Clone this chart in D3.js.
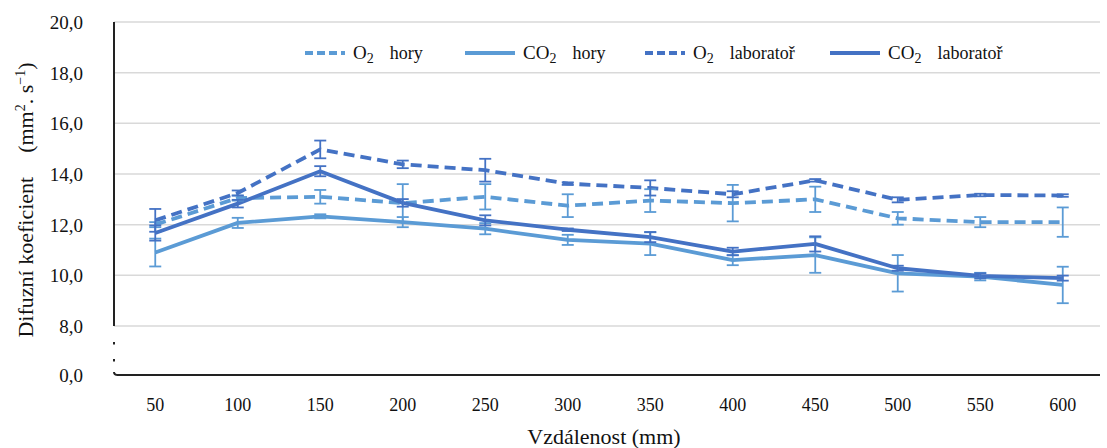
<!DOCTYPE html>
<html>
<head>
<meta charset="utf-8">
<script src="https://cdn.jsdelivr.net/npm/d3@7"></script>
<style>
  body { margin: 0; background: #fff; }
  svg text { font-family: "Liberation Serif", "DejaVu Serif", "Times New Roman", serif !important; fill: #111; }
</style>
</head>
<body>
<svg id="svg" width="1107" height="448"></svg>
<script>
// ------ data ------
const distances = ['50', '100', '150', '200', '250', '300', '350', '400', '450', '500', '550', '600'];
const yTicks = [0, 8, 10, 12, 14, 16, 18, 20];

const o2Hory      = [12.0, 13.05, 13.1, 12.85, 13.1, 12.75, 12.95, 12.85, 13.0, 12.25, 12.1, 12.1];
const o2HoryErr   = [0.1, 0.1, 0.27, 0.75, 0.5, 0.45, 0.45, 0.72, 0.5, 0.25, 0.2, 0.58];
const co2Hory     = [10.9, 12.07, 12.33, 12.1, 11.84, 11.4, 11.25, 10.6, 10.8, 10.08, 9.95, 9.62];
const co2HoryErr  = [0.55, 0.2, 0.08, 0.2, 0.22, 0.2, 0.45, 0.2, 0.7, 0.72, 0.15, 0.72];
const o2Lab       = [12.17, 13.25, 14.97, 14.38, 14.15, 13.62, 13.45, 13.2, 13.75, 12.98, 13.17, 13.15];
const o2LabErr    = [0.45, 0.1, 0.35, 0.15, 0.45, 0.05, 0.3, 0.12, 0.05, 0.1, 0.05, 0.05];
const co2Lab      = [11.67, 12.83, 14.11, 12.86, 12.17, 11.8, 11.51, 10.94, 11.24, 10.28, 9.98, 9.89];
const co2LabErr   = [0.3, 0.15, 0.2, 0.15, 0.2, 0.05, 0.2, 0.15, 0.3, 0.1, 0.1, 0.1];

const lightBlue = '#5b9bd5';
const darkBlue = '#4472c4';
const serif = '"Liberation Serif", "DejaVu Serif", serif';

const series = [
  { name: 'O', sub: '2', label: 'hory', values: o2Hory, err: o2HoryErr, color: lightBlue, dash: '11,6' },
  { name: 'CO', sub: '2', label: 'hory', values: co2Hory, err: co2HoryErr, color: lightBlue, dash: null },
  { name: 'O', sub: '2', label: 'laboratoř', values: o2Lab, err: o2LabErr, color: darkBlue, dash: '11,6' },
  { name: 'CO', sub: '2', label: 'laboratoř', values: co2Lab, err: co2LabErr, color: darkBlue, dash: null }
];

const svg = d3.select('#svg').attr('font-family', serif);

//------ scales ------
const plotLeft = 114, plotRight = 1104, plotTop = 22, plotBottom = 375;
const x = d3.scaleBand().domain(distances).range([plotLeft, plotRight]);
// broken axis: 0 sits just under the 8,0 line
const y = d3.scaleLinear().domain([0, 8, 20]).range([plotBottom, 326, plotTop]);

//------ gridlines ------
svg.append('g')
  .selectAll('line')
  .data(yTicks.filter(d => d >= 8))
  .join('line')
  .attr('x1', plotLeft).attr('x2', 1100)
  .attr('y1', d => y(d)).attr('y2', d => y(d))
  .attr('stroke', '#d9d9d9')
  .attr('stroke-width', 1.5);

//------ axes ------
const yAxis = svg.append('g')
  .attr('transform', `translate(${plotLeft - 28},0)`)
  .call(d3.axisLeft(y).tickValues(yTicks).tickSize(0).tickFormat(d => d3.format('.1f')(d).replace('.', ',')));
yAxis.attr('font-family', serif);
yAxis.select('.domain').remove();
yAxis.selectAll('text').attr('font-size', 19).attr('dy', '0.35em');

const xAxis = svg.append('g')
  .attr('transform', `translate(0,${plotBottom + 20})`)
  .call(d3.axisBottom(x).tickSize(0));
xAxis.attr('font-family', serif);
xAxis.select('.domain').remove();
xAxis.selectAll('text').attr('font-size', 18).attr('dy', '0.7em');

// y axis line with a break
svg.append('line')
  .attr('x1', plotLeft).attr('x2', plotLeft)
  .attr('y1', plotTop).attr('y2', y(8))
  .attr('stroke', '#222').attr('stroke-width', 2);
svg.append('g')
  .selectAll('rect')
  .data([342, 359])
  .join('rect')
  .attr('x', plotLeft - 1).attr('y', d => d).attr('width', 2).attr('height', 2.5)
  .attr('fill', '#222');
svg.append('path')
  .attr('d', `M${plotLeft},${plotBottom - 3} Q${plotLeft},${plotBottom} ${plotLeft + 4},${plotBottom}`)
  .attr('fill', 'none').attr('stroke', '#222').attr('stroke-width', 2);
svg.append('line')
  .attr('x1', plotLeft + 3).attr('x2', 1100)
  .attr('y1', plotBottom).attr('y2', plotBottom)
  .attr('stroke', '#222').attr('stroke-width', 2);

//------ lines ------
const line = d3.line()
  .x((d, i) => x(distances[i]) + x.bandwidth() / 2)
  .y(d => y(d));

series.forEach(s => {
  svg.append('path')
    .datum(s.values)
    .attr('fill', 'none')
    .attr('stroke', s.color)
    .attr('stroke-width', 3.8)
    .attr('stroke-linejoin', 'round')
    .attr('stroke-dasharray', s.dash)
    .attr('d', line);
});

//------ error bars ------
series.forEach(s => {
  const g = svg.append('g').attr('stroke', s.color).attr('stroke-width', 1.8);
  s.values.forEach((v, i) => {
    const cx = x(distances[i]) + x.bandwidth() / 2;
    const y1 = y(v + s.err[i]), y2 = y(v - s.err[i]);
    g.append('line').attr('x1', cx).attr('x2', cx).attr('y1', y1).attr('y2', y2);
    g.append('line').attr('x1', cx - 6).attr('x2', cx + 6).attr('y1', y1).attr('y2', y1);
    g.append('line').attr('x1', cx - 6).attr('x2', cx + 6).attr('y1', y2).attr('y2', y2);
  });
});

//------ legend ------
const legendX = [305, 465, 645, 830];
const legend = svg.append('g').attr('transform', 'translate(0,53)');
series.forEach((s, i) => {
  const g = legend.append('g').attr('transform', `translate(${legendX[i]},0)`);
  const w = s.dash ? 40 : 50;
  g.append('line')
    .attr('x1', 0).attr('x2', w).attr('y1', 0).attr('y2', 0)
    .attr('stroke', s.color).attr('stroke-width', 3.8)
    .attr('stroke-dasharray', s.dash ? '8,4' : null);
  const t = g.append('text')
    .attr('x', w + 8).attr('y', 6)
    .attr('font-family', serif)
    .attr('font-size', 19);
  t.append('tspan').text(s.name);
  t.append('tspan').attr('font-size', 14).attr('dy', 4).text(s.sub);
  t.append('tspan').attr('dy', -4).attr('dx', 16).attr('font-size', 18).text(s.label);
});

//------ titles ------
svg.append('text')
  .attr('x', 604).attr('y', 444)
  .attr('text-anchor', 'middle')
  .attr('font-family', serif)
  .attr('font-size', 22)
  .text('Vzdálenost (mm)');

const yt = svg.append('text')
  .attr('transform', 'translate(33,200) rotate(-90)')
  .attr('text-anchor', 'middle')
  .attr('font-family', serif)
  .attr('font-size', 22);
yt.append('tspan').text('Difuzní koeficient');
yt.append('tspan').attr('dx', 24).text('(mm');
yt.append('tspan').attr('font-size', 14).attr('dy', -8).text('2');
yt.append('tspan').attr('dy', 8).text('. s');
yt.append('tspan').attr('font-size', 14).attr('dy', -8).text('−1');
yt.append('tspan').attr('dy', 8).text(')');
</script>
</body>
</html>
